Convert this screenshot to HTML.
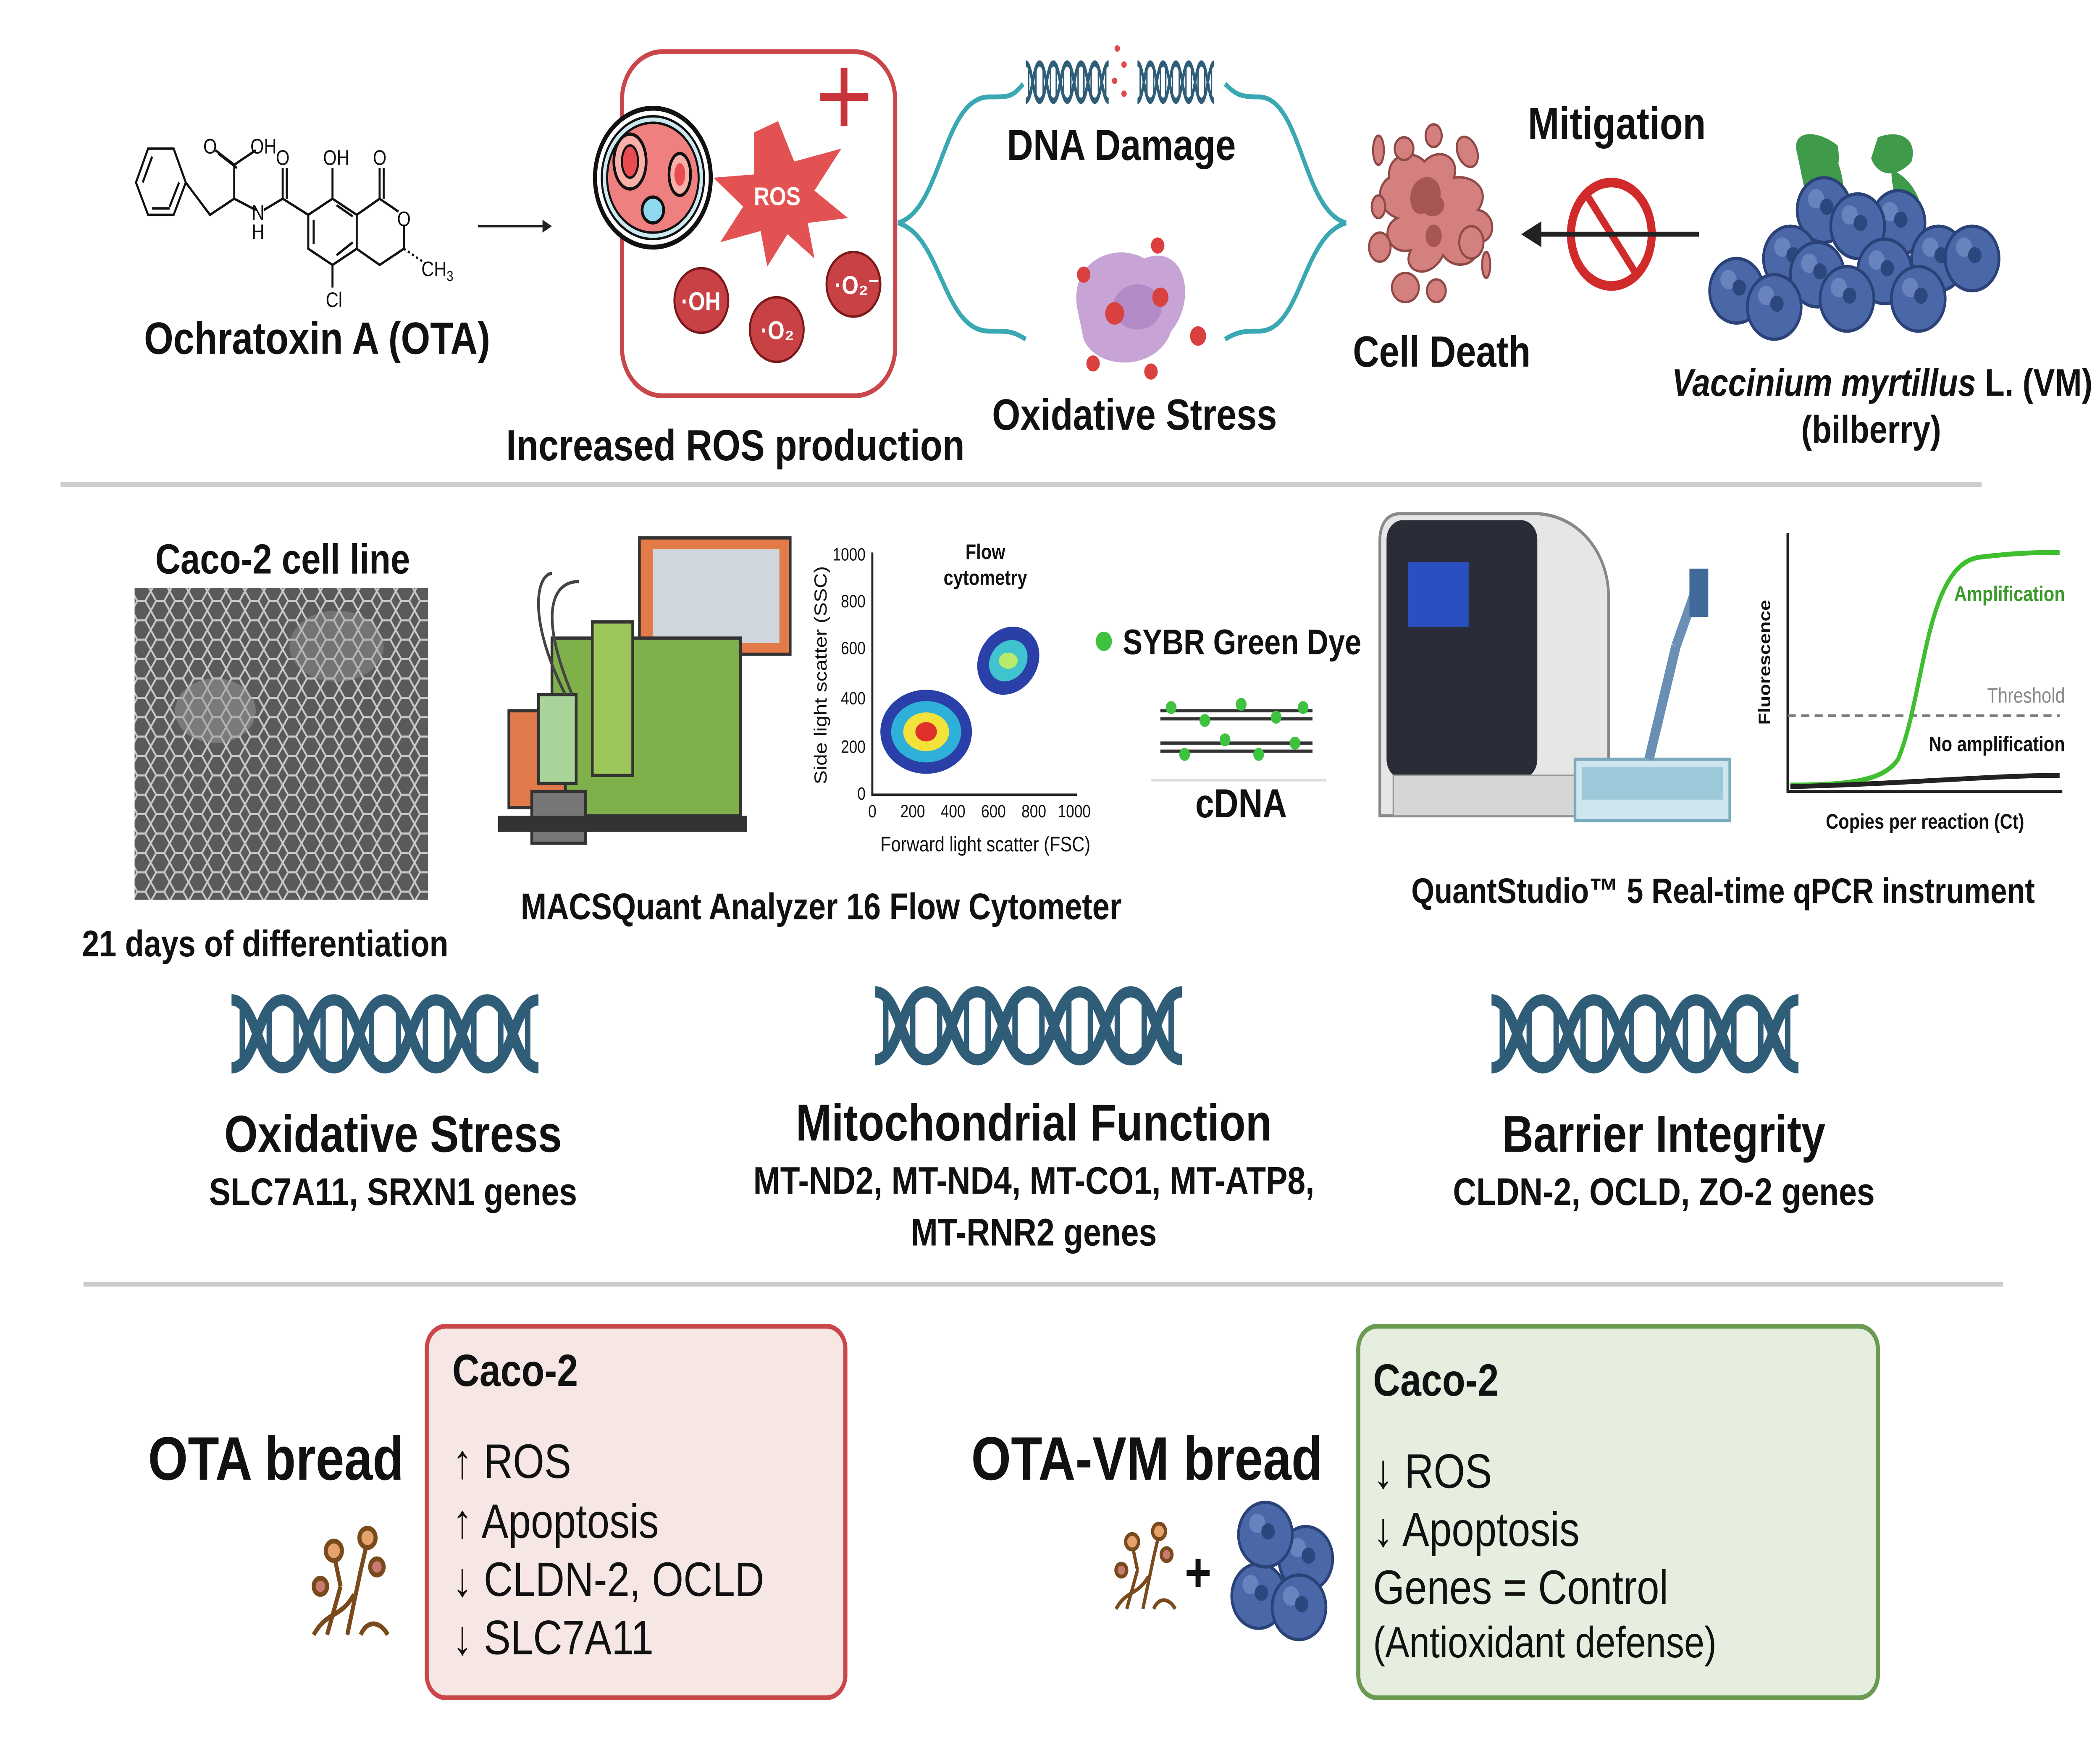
<!DOCTYPE html>
<html><head><meta charset="utf-8"><style>
html,body{margin:0;padding:0;background:#fff;overflow:hidden;width:100%;height:100%}
svg{display:block;width:100vw;height:100vh}
text{font-family:"Liberation Sans",sans-serif;fill:#111}
.b{font-weight:bold}
</style></head><body>
<svg viewBox="0 0 1560 1092" preserveAspectRatio="none" xmlns="http://www.w3.org/2000/svg">
<defs>
<g id="helix">
<path d="M0,6 C19,6 19,48 38,48 S57,6 76,6 S95,48 114,48 S133,6 152,6 S171,48 190,48 S209,6 228,6" fill="none" stroke="#2f5d78" stroke-width="7"/>
<path d="M0,48 C19,48 19,6 38,6 S57,48 76,48 S95,6 114,6 S133,48 152,48 S171,6 190,6 S209,48 228,48" fill="none" stroke="#2f5d78" stroke-width="7"/>
<g stroke="#2f5d78" stroke-width="4">
<line x1="8" y1="10" x2="8" y2="44"/><line x1="28" y1="12" x2="28" y2="42"/><line x1="48" y1="12" x2="48" y2="42"/><line x1="68" y1="10" x2="68" y2="44"/>
<line x1="84" y1="10" x2="84" y2="44"/><line x1="104" y1="12" x2="104" y2="42"/><line x1="124" y1="12" x2="124" y2="42"/><line x1="144" y1="10" x2="144" y2="44"/>
<line x1="160" y1="10" x2="160" y2="44"/><line x1="180" y1="12" x2="180" y2="42"/><line x1="200" y1="12" x2="200" y2="42"/><line x1="220" y1="10" x2="220" y2="44"/>
</g></g>
<g id="berry"><circle r="20" fill="#4a67a8"/><circle r="20" fill="none" stroke="#2a4278" stroke-width="2"/><circle cx="-6" cy="-7" r="6" fill="#7590c8" opacity="0.7"/><circle cx="2" cy="-2" r="5" fill="#2c467e"/></g>
<g id="fungus" fill="none" stroke="#7a4a1c" stroke-width="3">
<path d="M5,70 C15,55 25,60 35,45 M15,70 L25,40 M30,70 L40,30 M40,70 C45,60 55,62 60,70 M25,40 L20,20 M40,30 L45,12"/>
<circle cx="20" cy="18" r="6" fill="#e3a36b"/><circle cx="45" cy="10" r="6" fill="#e3a36b"/><circle cx="10" cy="40" r="5" fill="#c97a70"/><circle cx="52" cy="28" r="5" fill="#c97a70"/>
</g>
<pattern id="cells" width="14" height="12" patternUnits="userSpaceOnUse"><rect width="14" height="12" fill="#5a5a5a"/><path d="M0,6 L4,0 L10,0 L14,6 L10,12 L4,12z" fill="none" stroke="#c8c8c8" stroke-width="1.3"/></pattern>
</defs>

<!-- OTA structure -->
<g fill="none" stroke="#111" stroke-width="1.5">
<polygon points="101,113 110,92 129,92 138,113 129,133 110,133"/>
<path d="M106,113 L113,97 M126,128 L133,113 M113,129 L126,129"/>
<path d="M138,113 L156,133 L174,123 L174,102 L160,93 M176,104 L162,95 M174,102 L190,93 M174,123 L190,130 M196,130 L210,123 L210,104 M213,123 L213,104 M210,123 L229,133 L247,123 L265,133 L265,154 L247,164 L229,154 L229,133 M247,123 L247,104 M265,133 L282,123 L282,104 M285,123 L285,104 M282,123 L296,131 M300,139 L300,154 L282,164 L265,154 M247,164 L247,178 M233,151 L233,136 M250,158 L262,150 M250,127 L262,134"/>
<path d="M300,154 L316,163" stroke-dasharray="1.5,2"/>
</g>
<g font-size="13"><text x="151" y="95">O</text><text x="186" y="95">OH</text><text x="205" y="102">O</text><text x="187" y="136">N</text><text x="187" y="148">H</text><text x="240" y="102">OH</text><text x="277" y="102">O</text><text x="295" y="140">O</text><text x="313" y="171">CH<tspan font-size="9" dy="3">3</tspan></text><text x="242" y="190">Cl</text></g>
<text x="107" y="219" font-size="28" class="b">Ochratoxin A (OTA)</text>
<line x1="355" y1="140" x2="405" y2="140" stroke="#222" stroke-width="1.5"/><path d="M403,136 L410,140 L403,144z" fill="#222"/>

<rect x="462" y="32" width="203" height="213" rx="30" fill="#fff" stroke="#c9474b" stroke-width="3"/>
<path d="M627,42 v36 M609,60 h36" stroke="#c9343a" stroke-width="5"/>
<circle cx="485" cy="110" r="43" fill="#fff" stroke="#111" stroke-width="3"/>
<circle cx="485" cy="110" r="38" fill="#cde9f0" stroke="#111" stroke-width="1.5"/>
<circle cx="485" cy="110" r="34" fill="#f08080" stroke="#111" stroke-width="1.5"/>
<ellipse cx="468" cy="100" rx="12" ry="17" fill="#f9b0a8" stroke="#111" stroke-width="2"/><ellipse cx="468" cy="100" rx="6" ry="10" fill="#e84c50" stroke="#111" stroke-width="1.5"/>
<ellipse cx="505" cy="108" rx="8" ry="13" fill="#f9b0a8" stroke="#111" stroke-width="2"/><ellipse cx="505" cy="108" rx="4" ry="7" fill="#e84c50"/>
<circle cx="485" cy="130" r="8" fill="#8fd8f0" stroke="#111" stroke-width="2"/>
<polygon points="578,75 590,100 625,92 605,118 630,135 600,138 605,160 585,145 570,165 565,143 535,150 552,128 530,110 560,108 560,82" fill="#e35252"/>
<text x="560" y="127" font-size="16" class="b" style="fill:#fff">ROS</text>
<circle cx="521" cy="186" r="20" fill="#c84245" stroke="#7a1a1a" stroke-width="1.5"/><text x="506" y="192" font-size="16" class="b" style="fill:#fff">·OH</text>
<circle cx="577" cy="204" r="20" fill="#c84245" stroke="#7a1a1a" stroke-width="1.5"/><text x="565" y="210" font-size="16" class="b" style="fill:#fff">·O₂</text>
<circle cx="634" cy="176" r="20" fill="#c84245" stroke="#7a1a1a" stroke-width="1.5"/><text x="620" y="182" font-size="16" class="b" style="fill:#fff">·O₂⁻</text>
<text x="376" y="285" font-size="27" class="b">Increased ROS production</text>

<path d="M667,138 C700,130 700,60 735,60 C750,60 752,60 760,52" fill="none" stroke="#3aa8b3" stroke-width="3"/>
<path d="M667,138 C700,146 700,205 735,205 C750,205 752,205 762,210" fill="none" stroke="#3aa8b3" stroke-width="3"/>
<path d="M1000,138 C967,130 967,60 935,60 C920,60 918,58 910,52" fill="none" stroke="#3aa8b3" stroke-width="3"/>
<path d="M1000,138 C967,146 967,205 935,205 C925,205 920,205 910,210" fill="none" stroke="#3aa8b3" stroke-width="3"/>
<g transform="translate(762,36) scale(0.27,0.55)"><use href="#helix"/></g>
<g transform="translate(845,36) scale(0.25,0.55)"><use href="#helix"/></g>
<g fill="#e04a4a"><circle cx="830" cy="30" r="2"/><circle cx="835" cy="40" r="2"/><circle cx="828" cy="50" r="2"/><circle cx="835" cy="58" r="2"/></g>
<text x="748" y="99" font-size="27" class="b">DNA Damage</text>
<path d="M800,190 C795,160 830,150 850,160 C880,150 890,185 870,205 C860,230 815,230 805,210z" fill="#c8a3d6"/>
<ellipse cx="845" cy="190" rx="18" ry="14" fill="#b28ac6"/>
<g fill="#d9413f"><circle cx="828" cy="194" r="7"/><circle cx="862" cy="184" r="6"/><circle cx="805" cy="170" r="5"/><circle cx="860" cy="152" r="5"/><circle cx="890" cy="208" r="6"/><circle cx="855" cy="230" r="5"/><circle cx="812" cy="225" r="5"/></g>
<text x="737" y="266" font-size="27" class="b">Oxidative Stress</text>

<!-- Cell death -->
<g fill="#d4807e" stroke="#8f4a48" stroke-width="1.5">
<path d="M1032,110 C1030,95 1050,92 1058,100 C1070,90 1085,98 1080,110 C1095,108 1108,118 1098,130 C1112,132 1112,150 1098,150 C1100,165 1080,168 1072,158 C1062,175 1040,168 1048,155 C1030,158 1025,140 1038,135 C1022,130 1022,115 1032,110z"/>
<ellipse cx="1024" cy="93" rx="4" ry="9"/><ellipse cx="1043" cy="92" rx="7" ry="7"/><ellipse cx="1065" cy="84" rx="6" ry="7"/><ellipse cx="1090" cy="94" rx="7" ry="10" transform="rotate(-30 1090 94)"/>
<ellipse cx="1024" cy="128" rx="5" ry="7"/><ellipse cx="1025" cy="153" rx="8" ry="9"/><ellipse cx="1044" cy="178" rx="10" ry="9"/><ellipse cx="1067" cy="180" rx="7" ry="7"/><ellipse cx="1093" cy="150" rx="9" ry="10"/><ellipse cx="1104" cy="164" rx="3" ry="8"/>
</g>
<path d="M1050,115 C1058,105 1072,110 1070,122 C1078,128 1068,138 1058,132 C1048,135 1045,122 1050,115z" fill="#a85555"/>
<ellipse cx="1065" cy="146" rx="6" ry="7" fill="#a85555"/>
<text x="1005" y="227" font-size="27" class="b">Cell Death</text>
<text x="1135" y="86" font-size="28" class="b">Mitigation</text>
<line x1="1140" y1="145" x2="1262" y2="145" stroke="#222" stroke-width="3"/><path d="M1145,137 L1130,145 L1145,153z" fill="#222"/>
<ellipse cx="1197" cy="145" rx="30" ry="32" fill="none" stroke="#d12a2a" stroke-width="6"/><line x1="1179" y1="121" x2="1215" y2="169" stroke="#d12a2a" stroke-width="5"/>
<line x1="1140" y1="145" x2="1262" y2="145" stroke="#222" stroke-width="3"/>
<!-- berries -->
<path d="M1335,95 C1330,80 1350,80 1365,90 C1370,110 1355,120 1340,115z M1395,85 C1410,80 1425,85 1420,100 C1410,110 1395,110 1390,98z M1365,100 C1370,110 1372,125 1365,140 C1355,125 1356,110 1365,100z M1405,105 C1420,110 1430,125 1428,140 C1412,135 1405,120 1405,105z" fill="#3f9a4a"/>
<g><use href="#berry" x="1355" y="130"/><use href="#berry" x="1410" y="138"/><use href="#berry" x="1380" y="140"/><use href="#berry" x="1330" y="160"/><use href="#berry" x="1350" y="170"/><use href="#berry" x="1400" y="168"/><use href="#berry" x="1440" y="160"/><use href="#berry" x="1465" y="160"/><use href="#berry" x="1290" y="180"/><use href="#berry" x="1318" y="190"/><use href="#berry" x="1372" y="185"/><use href="#berry" x="1425" y="185"/></g>
<text x="1242" y="245" font-size="24" class="b"><tspan font-style="italic">Vaccinium myrtillus</tspan> L. (VM)</text>
<text x="1390" y="274" font-size="24" class="b" text-anchor="middle">(bilberry)</text>

<line x1="45" y1="300" x2="1472" y2="300" stroke="#ccc" stroke-width="3"/>

<!-- MIDDLE -->
<text x="210" y="355" font-size="26" class="b" text-anchor="middle">Caco-2 cell line</text>
<rect x="100" y="364" width="218" height="193" fill="url(#cells)"/>
<ellipse cx="160" cy="440" rx="30" ry="20" fill="#9a9a9a" opacity="0.5"/><ellipse cx="250" cy="400" rx="35" ry="22" fill="#9a9a9a" opacity="0.4"/>
<text x="197" y="592" font-size="23" class="b" text-anchor="middle">21 days of differentiation</text>

<rect x="475" y="333" width="112" height="72" fill="#e47a48" stroke="#333" stroke-width="2"/><rect x="485" y="340" width="94" height="58" fill="#cfd6dc"/>
<rect x="410" y="395" width="140" height="110" fill="#7fb04a" stroke="#333" stroke-width="2"/>
<rect x="440" y="385" width="30" height="95" fill="#9cc65a" stroke="#333" stroke-width="2"/>
<rect x="378" y="440" width="42" height="60" fill="#e07a4a" stroke="#333" stroke-width="2"/>
<rect x="400" y="430" width="28" height="55" fill="#a8d49a" stroke="#333" stroke-width="2"/>
<rect x="395" y="490" width="40" height="32" fill="#777" stroke="#333" stroke-width="2"/>
<rect x="370" y="505" width="185" height="10" fill="#333"/>
<path d="M420,430 C390,380 400,355 410,355 M425,430 C400,380 410,360 430,360" fill="none" stroke="#444" stroke-width="2"/>
<text x="610" y="569" font-size="23" class="b" text-anchor="middle">MACSQuant Analyzer 16 Flow Cytometer</text>

<g stroke="#222" stroke-width="1.5" fill="none"><path d="M648,342 V492 H800"/></g>
<g font-size="11"><text x="643" y="347" text-anchor="end">1000</text><text x="643" y="376" text-anchor="end">800</text><text x="643" y="405" text-anchor="end">600</text><text x="643" y="436" text-anchor="end">400</text><text x="643" y="466" text-anchor="end">200</text><text x="643" y="495" text-anchor="end">0</text>
<text x="648" y="506" text-anchor="middle">0</text><text x="678" y="506" text-anchor="middle">200</text><text x="708" y="506" text-anchor="middle">400</text><text x="738" y="506" text-anchor="middle">600</text><text x="768" y="506" text-anchor="middle">800</text><text x="798" y="506" text-anchor="middle">1000</text>
<text x="732" y="527" font-size="13" text-anchor="middle">Forward light scatter (FSC)</text>
<text transform="translate(614,418) rotate(-90)" font-size="13" text-anchor="middle">Side light scatter (SSC)</text>
<text x="732" y="346" font-size="13" class="b" text-anchor="middle">Flow</text><text x="732" y="362" font-size="13" class="b" text-anchor="middle">cytometry</text></g>
<ellipse cx="688" cy="453" rx="34" ry="26" fill="#2a3fa8"/><ellipse cx="688" cy="453" rx="26" ry="19" fill="#2fb0d8"/><ellipse cx="688" cy="453" rx="17" ry="12" fill="#f2e23a"/><ellipse cx="688" cy="453" rx="8" ry="6" fill="#e0302a"/>
<ellipse cx="749" cy="409" rx="24" ry="20" fill="#2a3fa8" transform="rotate(-30 749 409)"/><ellipse cx="749" cy="409" rx="15" ry="12" fill="#3ec3cf" transform="rotate(-30 749 409)"/><ellipse cx="749" cy="409" rx="7" ry="5" fill="#b8eb6a"/>

<circle cx="820" cy="397" r="6" fill="#3fc23f"/>
<text x="834" y="405" font-size="22" class="b">SYBR Green Dye</text>
<g stroke="#333" stroke-width="2"><line x1="862" y1="440" x2="975" y2="440"/><line x1="862" y1="445" x2="975" y2="445"/><line x1="862" y1="460" x2="975" y2="460"/><line x1="862" y1="465" x2="975" y2="465"/></g>
<g fill="#3fc23f"><circle cx="870" cy="438" r="4"/><circle cx="895" cy="446" r="4"/><circle cx="922" cy="436" r="4"/><circle cx="948" cy="444" r="4"/><circle cx="968" cy="438" r="4"/><circle cx="880" cy="467" r="4"/><circle cx="910" cy="458" r="4"/><circle cx="935" cy="467" r="4"/><circle cx="962" cy="460" r="4"/></g>
<line x1="855" y1="483" x2="985" y2="483" stroke="#ddd" stroke-width="1.5"/>
<text x="922" y="506" font-size="25" class="b" text-anchor="middle">cDNA</text>

<path d="M1040,318 L1140,318 C1170,318 1195,340 1195,370 L1195,505 L1025,505 L1025,335 C1025,325 1030,318 1040,318z" fill="#e6e6e6" stroke="#888" stroke-width="2"/>
<rect x="1030" y="322" width="112" height="160" rx="12" fill="#2a2d38"/>
<rect x="1046" y="348" width="45" height="40" fill="#2a4fc0"/>
<rect x="1035" y="480" width="160" height="25" fill="#d6d6d6" stroke="#999"/>
<rect x="1170" y="470" width="115" height="38" fill="#cfe6ef" stroke="#7aaabb" stroke-width="2"/>
<rect x="1175" y="475" width="105" height="20" fill="#9cc9da"/>
<path d="M1225,470 L1245,400 M1245,400 L1262,360" stroke="#6a8fb5" stroke-width="7"/><rect x="1255" y="352" width="14" height="30" fill="#3f6a9a"/>
<text x="1280" y="559" font-size="22" class="b" text-anchor="middle">QuantStudio™ 5 Real-time qPCR instrument</text>

<path d="M1328,330 V490 H1532" fill="none" stroke="#222" stroke-width="1.8"/>
<line x1="1328" y1="443" x2="1530" y2="443" stroke="#777" stroke-width="1.5" stroke-dasharray="6,4"/>
<path d="M1330,486 C1380,486 1400,482 1410,470 C1430,430 1430,350 1470,345 C1500,342 1515,342 1530,342" fill="none" stroke="#3fbf2f" stroke-width="3"/>
<path d="M1330,487 C1420,485 1480,480 1530,480" fill="none" stroke="#222" stroke-width="3"/>
<g font-size="13"><text x="1534" y="372" text-anchor="end" class="b" style="fill:#3a9a2a">Amplification</text><text x="1534" y="435" text-anchor="end" style="fill:#888">Threshold</text><text x="1534" y="465" text-anchor="end" class="b">No amplification</text><text x="1430" y="513" text-anchor="middle" class="b">Copies per reaction (Ct)</text>
<text transform="translate(1315,410) rotate(-90)" text-anchor="middle" class="b" font-size="12">Fluorescence</text></g>

<use href="#helix" x="172" y="613"/><use href="#helix" x="650" y="608"/><use href="#helix" x="1108" y="613"/>
<text x="292" y="713" font-size="32" class="b" text-anchor="middle">Oxidative Stress</text>
<text x="292" y="746" font-size="24" class="b" text-anchor="middle">SLC7A11, SRXN1 genes</text>
<text x="768" y="706" font-size="32" class="b" text-anchor="middle">Mitochondrial Function</text>
<text x="768" y="739" font-size="24" class="b" text-anchor="middle">MT-ND2, MT-ND4, MT-CO1, MT-ATP8,</text>
<text x="768" y="771" font-size="24" class="b" text-anchor="middle">MT-RNR2 genes</text>
<text x="1236" y="713" font-size="32" class="b" text-anchor="middle">Barrier Integrity</text>
<text x="1236" y="746" font-size="24" class="b" text-anchor="middle">CLDN-2, OCLD, ZO-2 genes</text>

<line x1="62" y1="795" x2="1488" y2="795" stroke="#ccc" stroke-width="3"/>

<!-- BOTTOM -->
<text x="205" y="916" font-size="38" class="b" text-anchor="middle">OTA bread</text>
<use href="#fungus" x="228" y="942"/>
<rect x="317" y="821" width="311" height="230" rx="14" fill="#f6e6e4" stroke="#c9474b" stroke-width="3"/>
<text x="336" y="858" font-size="28" class="b">Caco-2</text>
<g font-size="30"><text x="336" y="915">↑ ROS</text><text x="336" y="952">↑ Apoptosis</text><text x="336" y="988">↓ CLDN-2, OCLD</text><text x="336" y="1024">↓ SLC7A11</text></g>

<text x="852" y="916" font-size="38" class="b" text-anchor="middle">OTA-VM bread</text>
<g transform="translate(825,940) scale(0.8)"><use href="#fungus"/></g>
<text x="890" y="985" font-size="34" class="b" text-anchor="middle">+</text>
<use href="#berry" x="935" y="988"/><use href="#berry" x="970" y="965"/><use href="#berry" x="940" y="950"/><use href="#berry" x="965" y="995"/>
<rect x="1009" y="821" width="386" height="230" rx="14" fill="#e6eedf" stroke="#6a9a52" stroke-width="3"/>
<text x="1020" y="864" font-size="28" class="b">Caco-2</text>
<g font-size="30"><text x="1020" y="921">↓ ROS</text><text x="1020" y="957">↓ Apoptosis</text><text x="1020" y="993">Genes = Control</text><text x="1020" y="1026" font-size="27">(Antioxidant defense)</text></g>
</svg>
</body></html>
